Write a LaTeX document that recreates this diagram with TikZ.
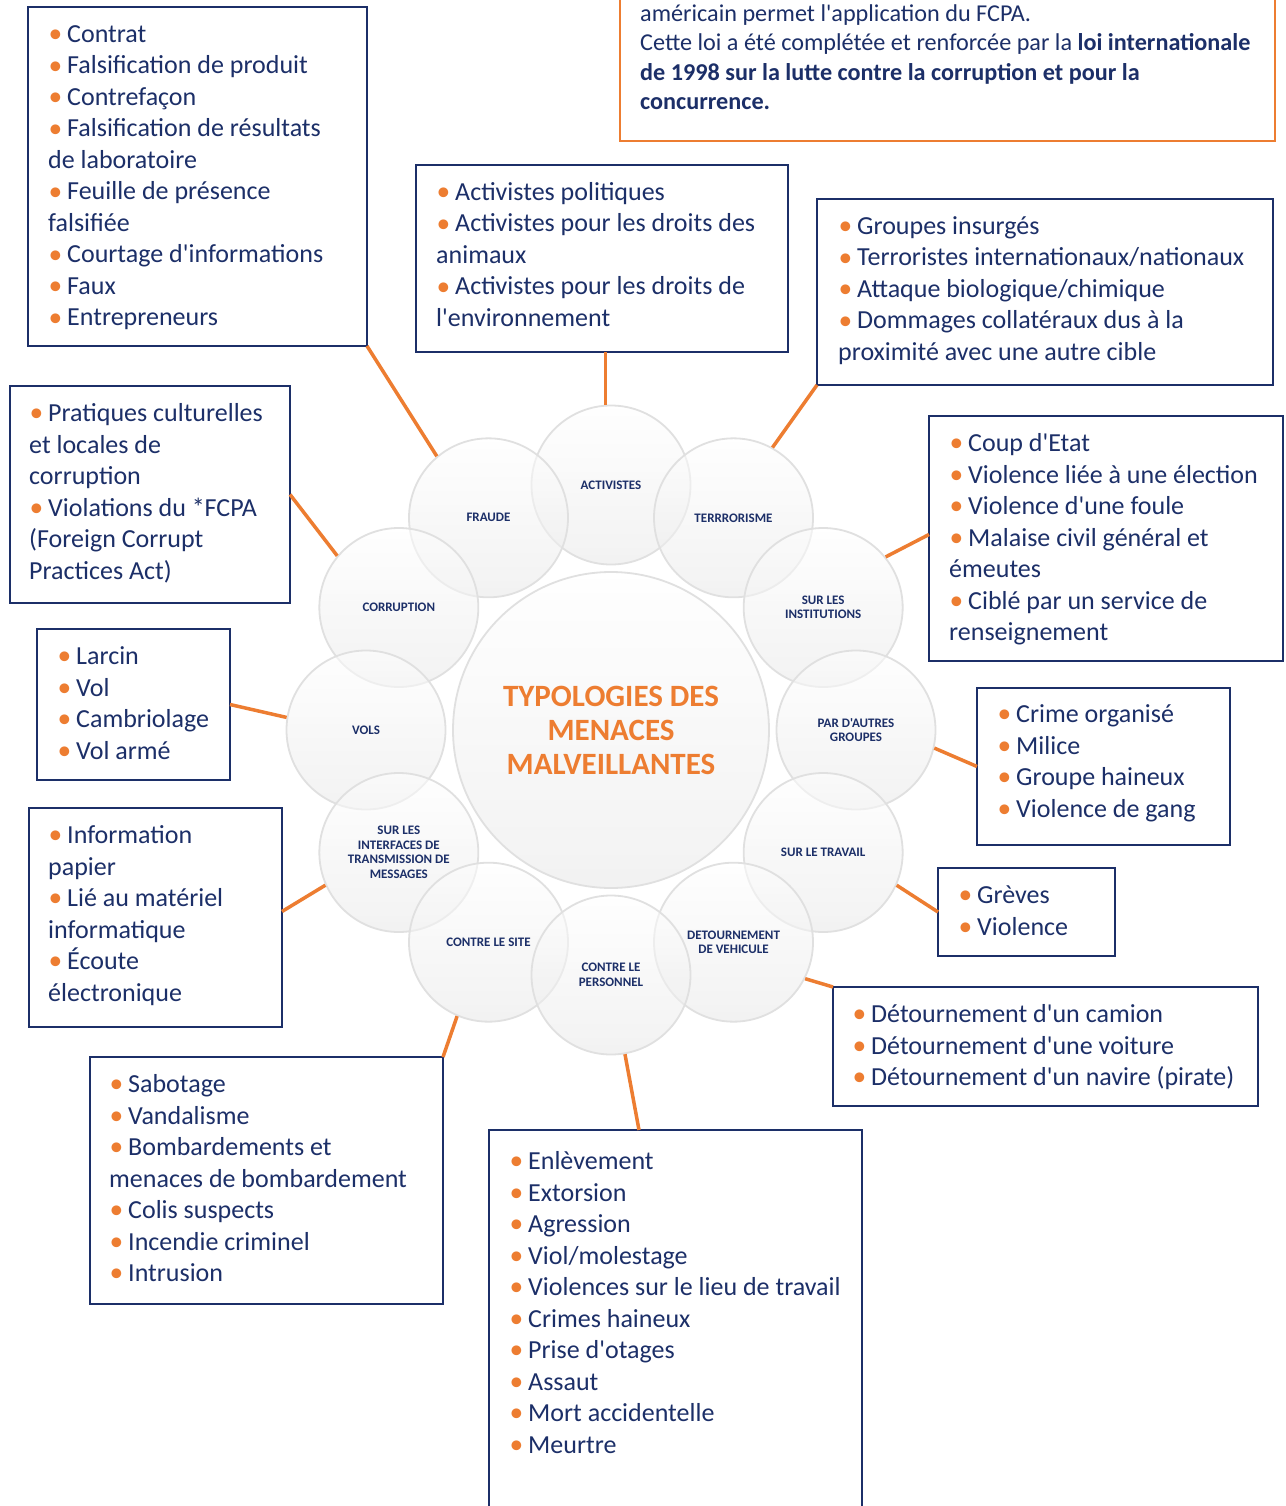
\documentclass[tikz,border=0pt]{standalone}
\usepackage{fontspec}
\setmainfont{Carlito}[Ligatures=TeXOff]
\usetikzlibrary{calc}
\definecolor{navy}{HTML}{1C2F68}
\definecolor{orng}{HTML}{ED7D31}
\newcommand\bl{\makebox[19pt][l]{\hspace{0.5pt}\textcolor{orng}{\raisebox{-0.4pt}{\fontsize{27.5}{0}\selectfont\textbullet}}}}
\newcommand\bt{\fontsize{26}{31.5}\selectfont}
\newcommand\btext[2]{\begin{minipage}[t]{#1pt}\bt\raggedright #2\end{minipage}}
\begin{document}
\begin{tikzpicture}[x=1pt,y=-1pt,
  box/.style={draw=navy, line width=2.5pt, rectangle, outer sep=0pt, inner sep=0pt, anchor=north west},
  obox/.style={draw=orng, line width=2.5pt, rectangle, outer sep=0pt, inner sep=0pt, anchor=north west},
  circ/.style={circle, minimum size=159pt, inner sep=0pt, draw=black!12, line width=1.8pt,
    top color=white, middle color=white, bottom color=black!9, fill opacity=0.55, draw opacity=1, text opacity=1,
    font=\fontsize{13}{14.5}\selectfont\bfseries, text=navy, align=center},
  conn/.style={draw=orng, line width=3.5pt},
  txt/.style={anchor=base west, inner sep=0pt, text=navy}]
\clip (0,0) rectangle (1285,1506);
\fill[white] (0,0) rectangle (1285,1506);

% central circle and satellites (y axis points down, so angles are negated)
\node[circ, minimum size=316pt, font=\fontsize{31}{34}\selectfont\bfseries, text=orng] (center) at (611,730) {TYPOLOGIES DES\\MENACES\\MALVEILLANTES};
\node[circ] (cAct)  at ($(center)+(-90:245)$)  {ACTIVISTES};
\node[circ] (cFra)  at ($(center)+(-120:245)$) {FRAUDE};
\node[circ] (cTer)  at ($(center)+(-60:245)$)  {TERRRORISME};
\node[circ] (cCor)  at ($(center)+(-150:245)$) {CORRUPTION};
\node[circ] (cIns)  at ($(center)+(-30:245)$)  {SUR LES\\INSTITUTIONS};
\node[circ] (cVol)  at ($(center)+(180:245)$)  {VOLS};
\node[circ] (cGro)  at ($(center)+(0:245)$)    {PAR D'AUTRES\\GROUPES};
\node[circ] (cInt)  at ($(center)+(150:245)$)  {SUR LES\\INTERFACES DE\\TRANSMISSION DE\\MESSAGES};
\node[circ] (cTra)  at ($(center)+(30:245)$)   {SUR LE TRAVAIL};
\node[circ] (cSit)  at ($(center)+(120:245)$)  {CONTRE LE SITE};
\node[circ] (cVeh)  at ($(center)+(60:245)$)   {DETOURNEMENT\\DE VEHICULE};
\node[circ] (cPer)  at ($(center)+(90:245)$)   {CONTRE LE\\PERSONNEL};

% boxes
\node[box, minimum width=339pt, minimum height=339pt] (bFra) at (28,7) {};
\node[box, minimum width=372pt, minimum height=187pt] (bAct) at (416,165) {};
\node[box, minimum width=456pt, minimum height=186pt] (bTer) at (817,199) {};
\node[obox, minimum width=655pt, minimum height=161pt] (bTop) at (620,-20) {};
\node[box, minimum width=280pt, minimum height=217pt] (bCor) at (10,386) {};
\node[box, minimum width=193pt, minimum height=151pt] (bVol) at (37,629) {};
\node[box, minimum width=253pt, minimum height=219pt] (bInt) at (29,808) {};
\node[box, minimum width=353pt, minimum height=247pt] (bSit) at (90,1057) {};
\node[box, minimum width=373pt, minimum height=400pt] (bPer) at (489,1130) {};
\node[box, minimum width=354pt, minimum height=245pt] (bIns) at (929,416) {};
\node[box, minimum width=253pt, minimum height=157pt] (bGro) at (977,688) {};
\node[box, minimum width=177pt, minimum height=88pt] (bTra) at (938,868) {};
\node[box, minimum width=425pt, minimum height=119pt] (bVeh) at (833,987) {};

% box texts
\node[txt] (tFra) at (48,42.5) {\btext{330}{\bl Contrat\\\bl Falsification de produit\\\bl Contrefaçon\\\bl Falsification de résultats\\de laboratoire\\\bl Feuille de présence\\falsifiée\\\bl Courtage d'informations\\\bl Faux\\\bl Entrepreneurs}};
\node[txt] (tAct) at (436,200.5) {\btext{360}{\bl Activistes politiques\\\bl Activistes pour les droits des\\animaux\\\bl Activistes pour les droits de\\l'environnement}};
\node[txt] (tTer) at (838,234.5) {\btext{440}{\bl Groupes insurgés\\\bl Terroristes internationaux/nationaux\\\bl Attaque biologique/chimique\\\bl Dommages collatéraux dus à la\\proximité avec une autre cible}};
\node[txt] (tTop) at (640,21.5) {\begin{minipage}[t]{640pt}\fontsize{24.2}{29.3}\selectfont\raggedright américain permet l'application du FCPA.\\Cette loi a été complétée et renforcée par la \textbf{loi internationale}\\\textbf{de 1998 sur la lutte contre la corruption et pour la}\\\textbf{concurrence.}\end{minipage}};
\node[txt] (tCor) at (29,421.5) {\btext{260}{\bl Pratiques culturelles\\et locales de\\corruption\\\bl Violations du *FCPA\\(Foreign Corrupt\\Practices Act)}};
\node[txt] (tVol) at (57,664.5) {\btext{170}{\bl Larcin\\\bl Vol\\\bl Cambriolage\\\bl Vol armé}};
\node[txt] (tInt) at (48,843.5) {\btext{230}{\bl Information\\papier\\\bl Lié au matériel\\informatique\\\bl Écoute\\électronique}};
\node[txt] (tSit) at (109,1092.5) {\btext{330}{\bl Sabotage\\\bl Vandalisme\\\bl Bombardements et\\menaces de bombardement\\\bl Colis suspects\\\bl Incendie criminel\\\bl Intrusion}};
\node[txt] (tPer) at (509,1169.5) {\btext{350}{\bl Enlèvement\\\bl Extorsion\\\bl Agression\\\bl Viol/molestage\\\bl Violences sur le lieu de travail\\\bl Crimes haineux\\\bl Prise d'otages\\\bl Assaut\\\bl Mort accidentelle\\\bl Meurtre}};
\node[txt] (tIns) at (949,451.5) {\btext{330}{\bl Coup d'Etat\\\bl Violence liée à une élection\\\bl Violence d'une foule\\\bl Malaise civil général et\\émeutes\\\bl Ciblé par un service de\\renseignement}};
\node[txt] (tGro) at (997,722.5) {\btext{230}{\bl Crime organisé\\\bl Milice\\\bl Groupe haineux\\\bl Violence de gang}};
\node[txt] (tTra) at (958,903.5) {\btext{150}{\bl Grèves\\\bl Violence}};
\node[txt] (tVeh) at (852,1022.5) {\btext{400}{\bl Détournement d'un camion\\\bl Détournement d'une voiture\\\bl Détournement d'un navire (pirate)}};

% connectors
\draw[conn] (cFra.130) -- (bFra.south east);
\draw[conn] (cAct.94) -- (cAct.94 |- bAct.south);
\draw[conn] (cTer.61) -- (bTer.south west);
\draw[conn] (cCor.140) -- (bCor.east);
\draw[conn] (cIns.39.5) -- ($(bIns.west)+(0,-4)$);
\draw[conn] (cVol.171) -- (bVol.east);
\draw[conn] (cGro.-13) -- (bGro.west);
\draw[conn] (cInt.204) -- ($(bInt.east)+(0,-6)$);
\draw[conn] (cTra.-24.7) -- (bTra.west);
\draw[conn] (cVeh.-27) -- (bVeh.north west);
\draw[conn] (cSit.247.5) -- (bSit.north east);
\draw[conn] (cPer.280) -- ($(bPer.north west)+(150,0)$);
\end{tikzpicture}
\end{document}
